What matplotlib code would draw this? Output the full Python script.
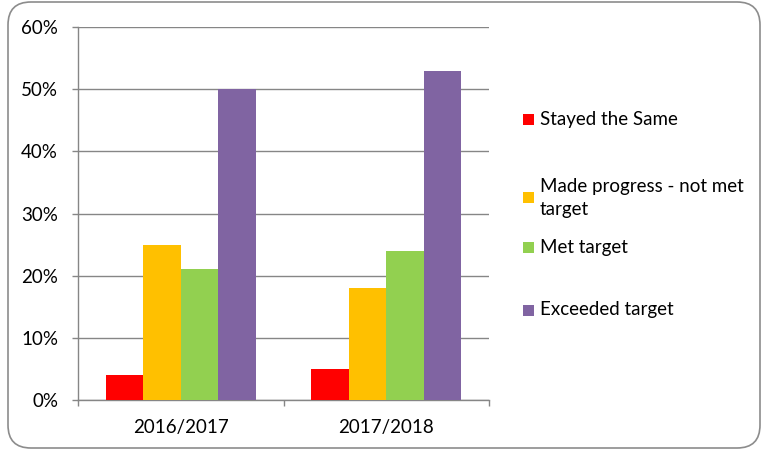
import matplotlib
matplotlib.use("Agg")
import matplotlib.pyplot as plt
from matplotlib.patches import FancyBboxPatch, Rectangle
import numpy as np

categories = ["2016/2017", "2017/2018"]
series_names = ["Stayed the Same", "Made progress - not met\ntarget", "Met target", "Exceeded target"]
stayed = [4, 5]
progress = [25, 18]
met = [21, 24]
exceeded = [50, 53]
colors = ["#FF0000", "#FFC000", "#92D050", "#8064A2"]
yticks = [0, 10, 20, 30, 40, 50, 60]

plt.rcParams['font.family'] = ['Lato', 'DejaVu Sans']
FS = 13.5

fig = plt.figure(figsize=(7.63, 4.51), dpi=100)
ax = fig.add_axes([78/763, 1-400/451, (489-78)/763, (400-27)/451])

x = np.arange(len(categories))
w = 0.1825
values = [stayed, progress, met, exceeded]
for i, (vals, c) in enumerate(zip(values, colors)):
    ax.bar(x + (i - 1.5) * w, vals, width=w, color=c, zorder=3, linewidth=0)

ax.set_xlim(-0.5, 1.5)
ax.set_ylim(0, 60)
ax.set_yticks(yticks)
ax.set_yticklabels([f"{v}%" for v in yticks], fontsize=FS, color="#000000")
ax.yaxis.grid(True, color="#868686", linewidth=1, zorder=0)
ax.set_xticks([-0.5, 0.5, 1.5])
ax.set_xticklabels([])
ax.set_xticks(x, minor=True)
ax.set_xticklabels(categories, minor=True, fontsize=FS)
ax.tick_params(axis='x', which='minor', length=0, pad=14)
ax.tick_params(axis='x', which='major', length=4.3, color="#868686", width=1)
ax.tick_params(axis='y', length=4.3, color="#868686", width=1, pad=10)
for s in ["top", "right"]:
    ax.spines[s].set_visible(False)
for s in ["left", "bottom"]:
    ax.spines[s].set_color("#868686")
    ax.spines[s].set_linewidth(1)

# legend (manual, matching uneven spacing)
leg_y = [119, 198, 247, 310]
for name, c, yy in zip(series_names, colors, leg_y):
    yf = 1 - yy / 451
    fig.add_artist(Rectangle((523/763, yf - 5.5/451), 11/763, 11/451,
                             transform=fig.transFigure, color=c, linewidth=0))
    fig.text(540/763, yf, name, fontsize=FS, va="center", ha="left",
             linespacing=1.38)

border = FancyBboxPatch((8/763, 3/451), (752)/763, (446)/451,
                        boxstyle="round,pad=0,rounding_size=0.03",
                        transform=fig.transFigure, fill=False,
                        edgecolor="#8c8c8c", linewidth=1.2,
                        mutation_aspect=763/451)
fig.add_artist(border)

fig.savefig("out.png", dpi=100)
